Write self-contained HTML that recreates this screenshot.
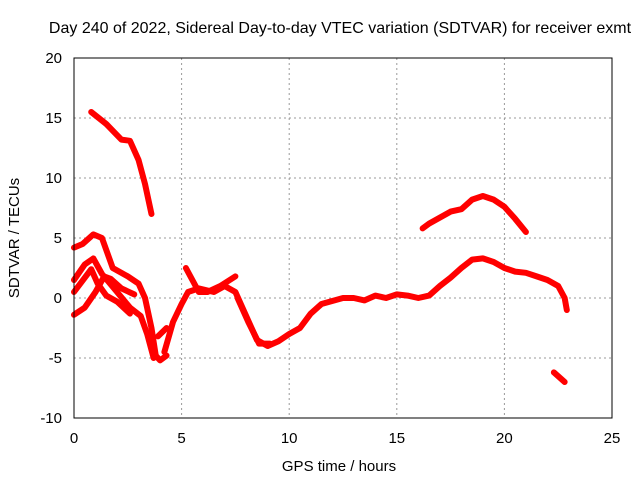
<!DOCTYPE html>
<html><head><meta charset="utf-8"><style>
body{margin:0;background:#fff}
svg{display:block;font-family:"Liberation Sans",sans-serif}
</style></head><body>
<svg id="c" width="640" height="480">
<rect width="640" height="480" fill="#fff"/>
<text x="340" y="33" text-anchor="middle" font-size="16">Day 240 of 2022, Sidereal Day-to-day VTEC variation (SDTVAR) for receiver exmt</text>
<text x="339" y="471" text-anchor="middle" font-size="15">GPS time / hours</text>
<text transform="translate(19,238) rotate(-90)" text-anchor="middle" font-size="15">SDTVAR / TECUs</text>
<g id="grid"></g><g id="series"></g>
<rect x="74" y="58" width="538" height="360" fill="none" stroke="#000"/>
</svg>
<script>
const xTicks=[0,5,10,15,20,25];
const yTicks=[-10,-5,0,5,10,15,20];
const segA=[[0.8,15.5],[1.5,14.5],[2.2,13.2],[2.6,13.1],[3.0,11.5],[3.3,9.5],[3.6,7.0]];
const segB=[[0,4.2],[0.4,4.5],[0.9,5.3],[1.3,5.0],[1.6,3.5],[1.8,2.5],[2.5,1.8],[3.0,1.2],[3.3,0],[3.6,-2.5],[3.8,-4.8],[4.0,-5.2],[4.3,-4.8]];
const segC=[[0,1.5],[0.5,2.8],[0.9,3.3],[1.3,2.0],[2.0,0.5],[2.6,-0.8],[3.1,-1.5],[3.4,-3],[3.7,-5.0]];
const segD=[[0,-1.4],[0.5,-0.8],[1.0,0.5],[1.4,1.8],[1.7,1.6],[2.2,0.8],[2.8,0.3]];
const segE=[[0,0.5],[0.8,2.4],[1.1,1.2],[1.5,0.2],[2.0,-0.3],[2.6,-1.3]];
const segF=[[3.9,-3.2],[4.3,-2.5]];
const segG=[[4.2,-4.5],[4.6,-2],[5.0,-0.5],[5.3,0.5],[5.8,0.8],[6.5,0.5],[7.0,1.0],[7.5,0.5],[8.0,-1.5],[8.5,-3.5],[9.0,-4.0],[9.5,-3.6],[10,-3.0],[10.5,-2.5],[11,-1.3],[11.5,-0.5],[12.5,0],[13,0],[13.5,-0.2],[14,0.2],[14.5,0],[15,0.3],[15.5,0.2],[16,0],[16.5,0.2],[17,1],[17.5,1.7],[18,2.5],[18.5,3.2],[19,3.3],[19.5,3],[20,2.5],[20.5,2.2],[21,2.1],[21.5,1.8],[22,1.5],[22.5,1],[22.8,0],[22.9,-1]];
const segG2=[[7.6,0],[8.1,-2],[8.6,-3.8],[9.1,-3.8]];
const segH=[[5.2,2.5],[5.5,1.5],[5.8,0.5],[6.2,0.5],[6.8,1.0],[7.5,1.8]];
const segI=[[16.2,5.8],[16.5,6.2],[17,6.7],[17.5,7.2],[18,7.4],[18.5,8.2],[19,8.5],[19.5,8.2],[20,7.6],[20.5,6.6],[21,5.5]];
const segJ=[[22.3,-6.2],[22.8,-7]];
const series=[segA,segB,segC,segD,segE,segF,segG,segG2,segH,segI,segJ];
const X=v=>74+v*538/25, Y=v=>418-(v+10)*12;
const NS='http://www.w3.org/2000/svg';
const grid=document.getElementById('grid'), sg=document.getElementById('series');
function mk(t,a,p){const e=document.createElementNS(NS,t);for(const k in a)e.setAttribute(k,a[k]);p.appendChild(e);return e;}
xTicks.forEach(v=>{
 if(v>0&&v<25){const l=mk('line',{x1:X(v),x2:X(v),y1:58,y2:418,stroke:'#999','stroke-dasharray':'2,3'},grid);
 
 }
 const t=mk('text',{x:X(v),y:443,'text-anchor':'middle','font-size':15},grid);t.textContent=v;
 
 
});
yTicks.forEach(v=>{
 if(v>-10&&v<20){const l=mk('line',{x1:74,x2:612,y1:Y(v),y2:Y(v),stroke:'#999','stroke-dasharray':'2,3'},grid);
 
 }
 const t=mk('text',{x:62,y:Y(v)+5,'text-anchor':'end','font-size':15},grid);t.textContent=v;
 
 
});
series.forEach(s=>{
 const p=mk('polyline',{points:s.map(d=>X(d[0])+','+Y(d[1])).join(' '),fill:'none',stroke:'#f00','stroke-width':6,'stroke-linejoin':'round','stroke-linecap':'round'},sg);
 
 
});
</script>
</body></html>
